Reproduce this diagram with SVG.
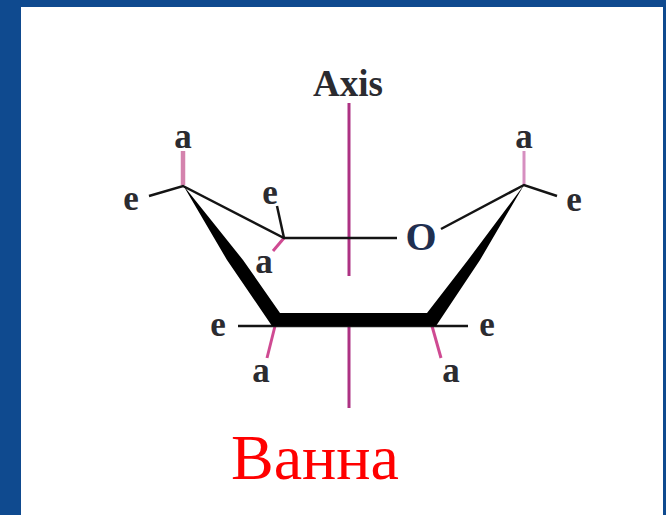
<svg xmlns="http://www.w3.org/2000/svg" width="666" height="515" viewBox="0 0 666 515">
<style>
.t{font-family:"Liberation Serif","DejaVu Serif",serif;font-weight:bold;font-size:35px;fill:#2b2b30;text-anchor:middle}
.k{stroke:#141414;fill:none;stroke-linecap:butt}
.a{stroke:#cf4a92;fill:none}
.x{stroke:#ad3283;stroke-width:3;fill:none}
</style>
<rect id="background" width="666" height="515" fill="#0f4a8f"/>
<rect id="page" x="21" y="7" width="642" height="508" fill="#fff"/>
<g id="connectors">
<path class="x" d="M349 103V276M349 320V408"/>
<path class="a" stroke-width="4.5" style="stroke:#d483ad" d="M183 151V185"/>
<path class="a" stroke-width="3" style="stroke:#d68fc0" d="M524 151V185"/>
<path class="a" stroke-width="3" d="M284 238L273 251"/>
<path class="a" stroke-width="3" d="M275 326L267 358"/>
<path class="a" stroke-width="3" d="M432 326L441 358"/>
<path class="k" stroke-width="2.5" d="M149 196L183 186L284 238H397"/>
<path class="k" stroke-width="2.5" d="M277 206L284 238"/>
<path class="k" stroke-width="2.5" d="M441 229L524 185L557 196"/>
<path class="k" stroke-width="2.5" d="M238 326H468"/>
<path fill="#000" d="M183 185L243 260L280 313H427L468 260L524 185L480 260L436 326H272L227 260Z"/>
</g>
<g id="axis-label"><text class="t" x="348" y="96" style="font-size:37px">Axis</text></g>
<g id="node-top-left"><text class="t" x="183" y="148">a</text><text class="t" x="131" y="210">e</text></g>
<g id="node-inner-left"><text class="t" x="270" y="204">e</text><text class="t" x="264" y="273">a</text></g>
<g id="node-oxygen"><text class="t" x="421" y="250" style="fill:#1f2f50;font-size:40px">O</text></g>
<g id="node-top-right"><text class="t" x="524" y="148">a</text><text class="t" x="574" y="211">e</text></g>
<g id="node-bottom-left"><text class="t" x="218" y="336">e</text><text class="t" x="261" y="382">a</text></g>
<g id="node-bottom-right"><text class="t" x="487" y="336">e</text><text class="t" x="451" y="382">a</text></g>
<text x="315" y="479" font-family="Liberation Serif, serif" font-size="64" fill="#ff0000" text-anchor="middle">Ванна</text>
</svg>
